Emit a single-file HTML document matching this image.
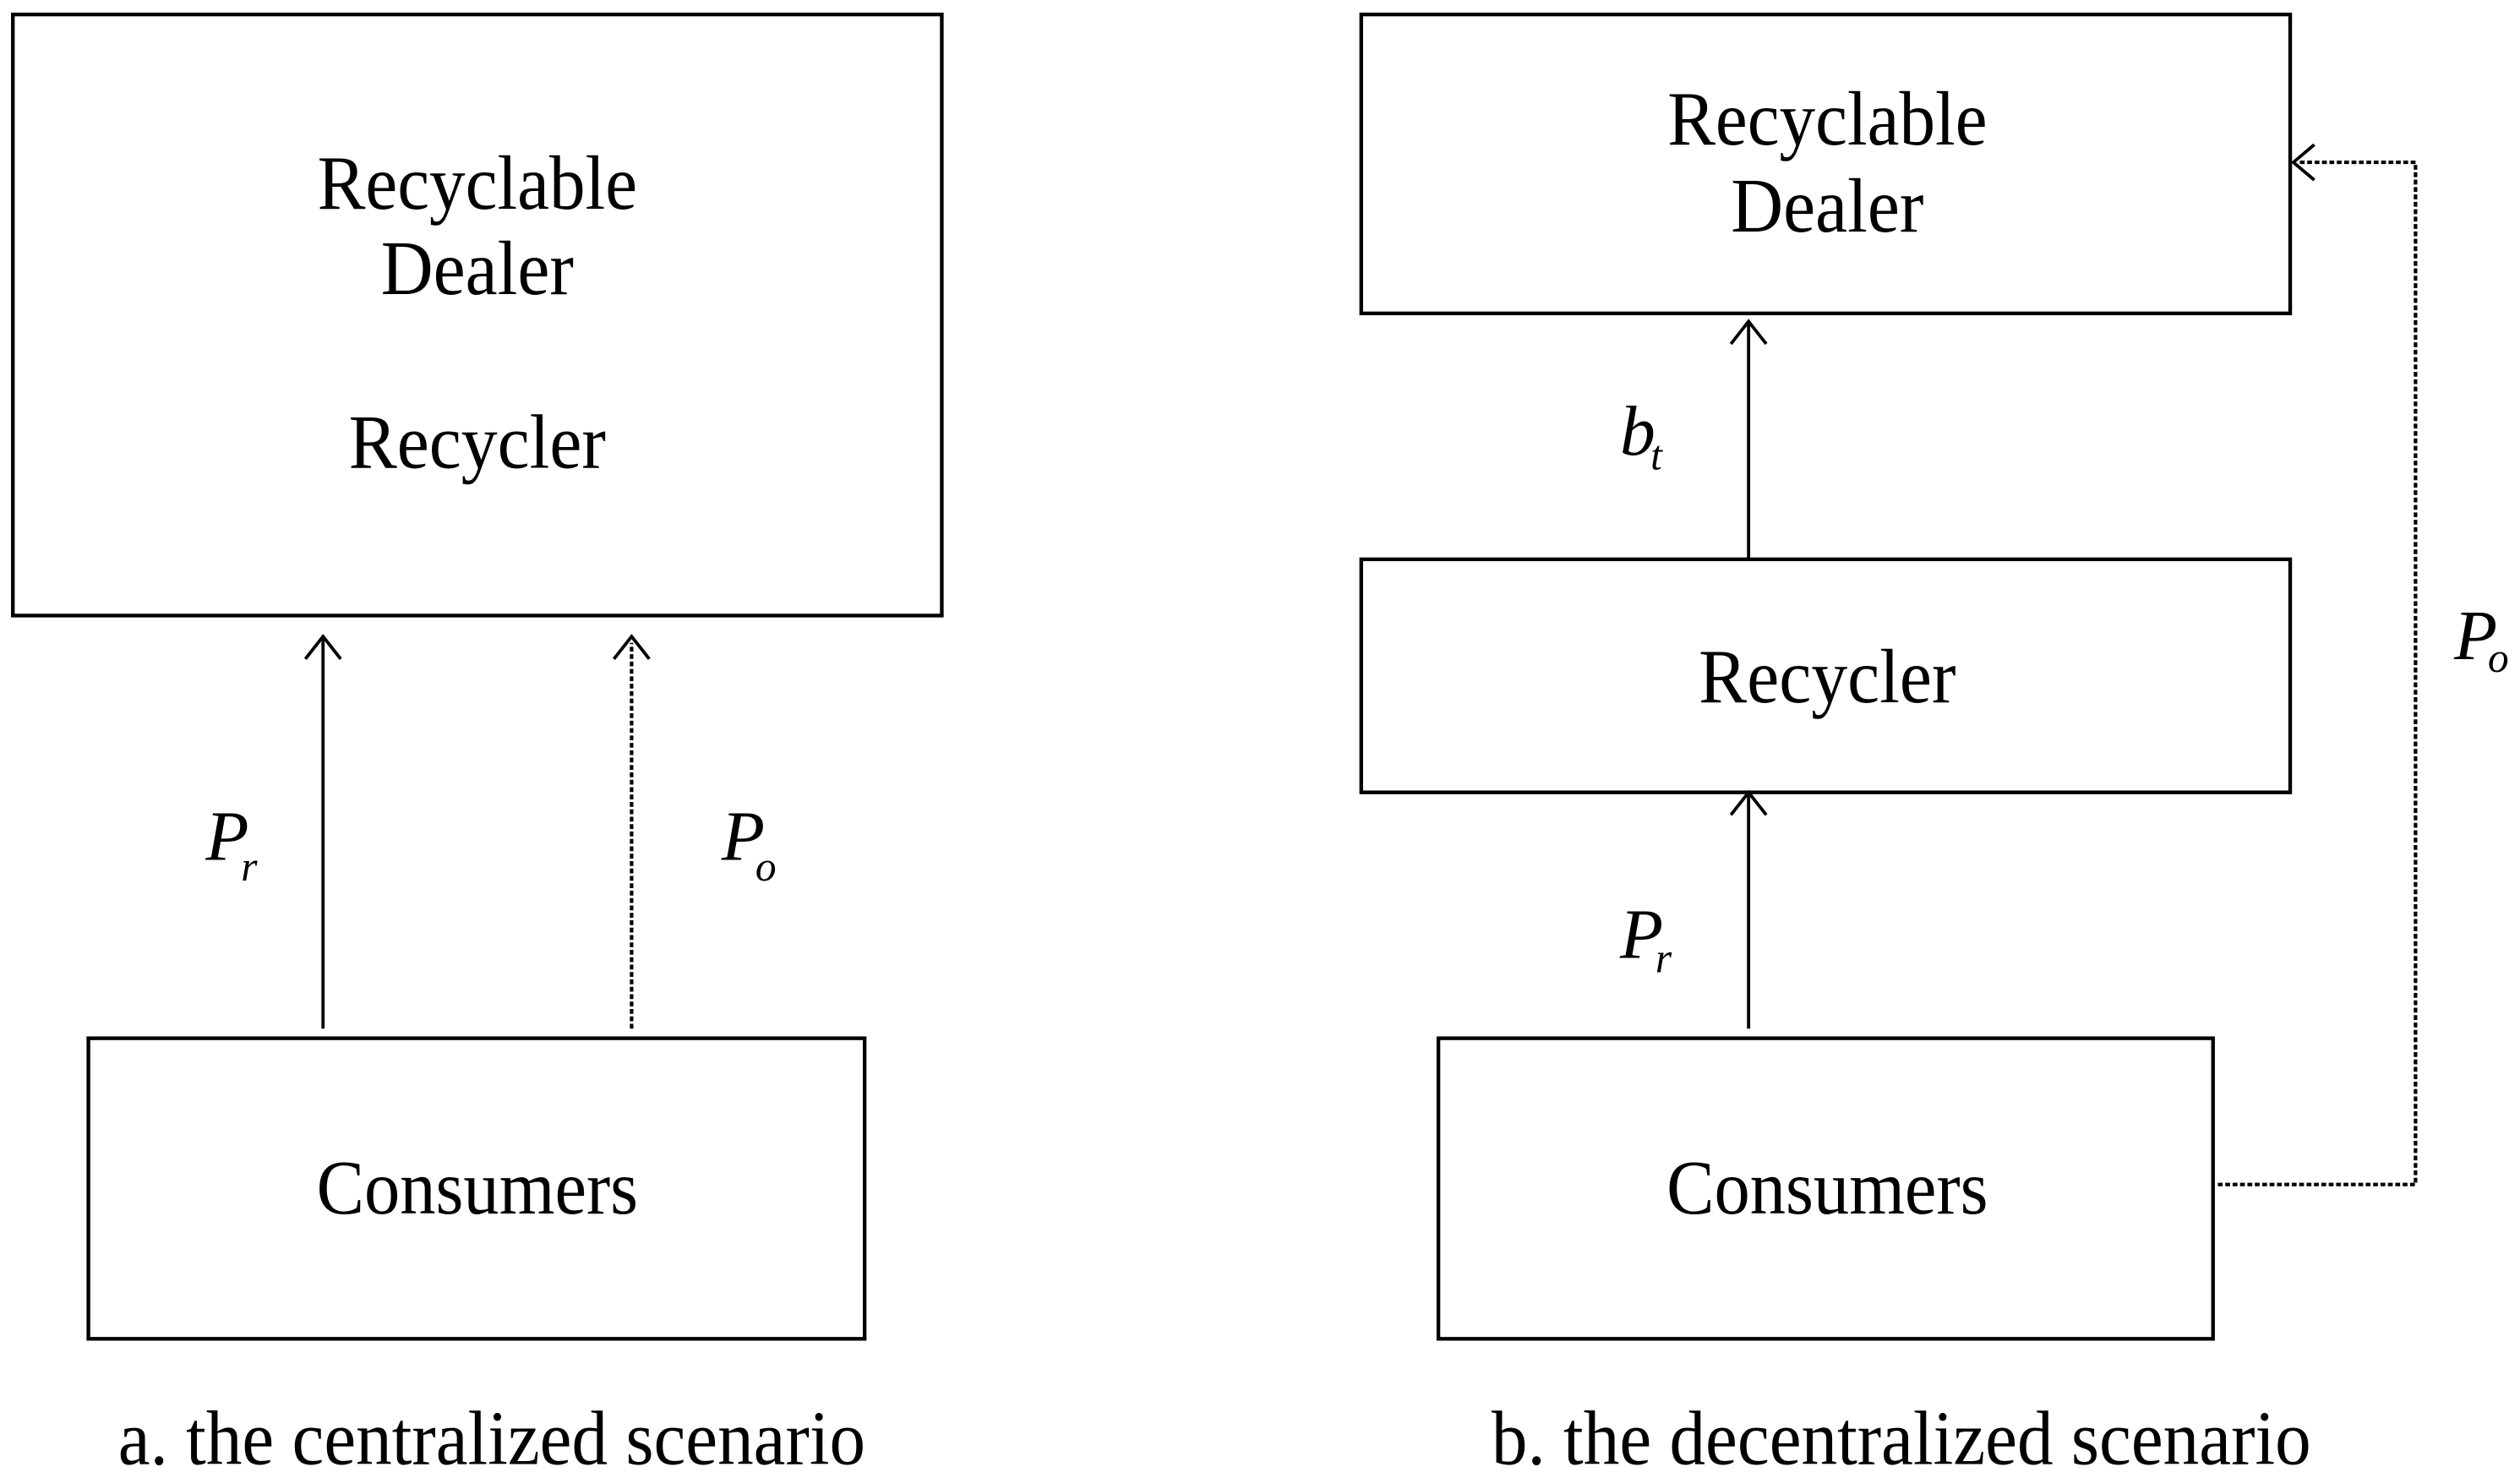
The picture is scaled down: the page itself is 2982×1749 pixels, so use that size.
<!DOCTYPE html>
<html><head><meta charset="utf-8"><style>html,body{margin:0;padding:0;background:#fff}svg{display:block}</style></head>
<body>
<svg width="2982" height="1749" viewBox="0 0 1568 919.6" preserveAspectRatio="none" xmlns="http://www.w3.org/2000/svg" font-family="'Liberation Serif', serif">
<rect x="0" y="0" width="1568" height="919.6" fill="#fff"/>
<g fill="none" stroke="#000" stroke-width="2.3">
<rect x="8" y="9" width="578" height="374"/>
<rect x="55" y="646" width="483" height="187"/>
<rect x="847" y="9" width="578" height="186"/>
<rect x="847" y="348" width="578" height="145"/>
<rect x="895" y="646" width="482" height="187"/>
</g>
<g fill="none" stroke="#000" stroke-width="2">
<line x1="201" y1="640" x2="201" y2="397"/>
<polyline points="190,410 201,396 212,410"/>
<line x1="393" y1="640" x2="393" y2="400" stroke-dasharray="3,1.6" stroke-width="2.2"/>
<polyline points="382,410 393,396 404,410"/>
<line x1="1088" y1="348" x2="1088" y2="201"/>
<polyline points="1077,214 1088,200 1099,214"/>
<line x1="1088" y1="640" x2="1088" y2="494"/>
<polyline points="1077,507 1088,493 1099,507"/>
<polyline points="1380,737 1503,737 1503,101 1430,101" stroke-dasharray="3,1.6" stroke-width="2.2"/>
<polyline points="1440,90 1427,101 1440,112"/>
</g>
<g font-size="48" text-anchor="middle" fill="#000">
<text x="297" y="130" textLength="199" lengthAdjust="spacingAndGlyphs">Recyclable</text>
<text x="297" y="183" textLength="120" lengthAdjust="spacingAndGlyphs">Dealer</text>
<text x="297" y="291" textLength="160" lengthAdjust="spacingAndGlyphs">Recycler</text>
<text x="297" y="755" textLength="200" lengthAdjust="spacingAndGlyphs">Consumers</text>
<text x="1137" y="90" textLength="199" lengthAdjust="spacingAndGlyphs">Recyclable</text>
<text x="1137" y="144" textLength="120" lengthAdjust="spacingAndGlyphs">Dealer</text>
<text x="1137" y="437" textLength="160" lengthAdjust="spacingAndGlyphs">Recycler</text>
<text x="1137" y="755" textLength="200" lengthAdjust="spacingAndGlyphs">Consumers</text>
<text x="306" y="911" textLength="465" lengthAdjust="spacingAndGlyphs">a. the centralized scenario</text>
<text x="1183" y="911" textLength="510" lengthAdjust="spacingAndGlyphs">b. the decentralized scenario</text>
</g>
<g font-style="italic" fill="#000" font-size="44">
<text x="128" y="535">P</text><text x="150" y="548" font-size="26">r</text>
<text x="449" y="535">P</text><text x="470" y="548" font-size="26">o</text>
<text x="1008" y="283">b</text><text x="1027" y="292" font-size="26">t</text>
<text x="1008" y="596">P</text><text x="1030" y="605" font-size="26">r</text>
<text x="1527" y="410">P</text><text x="1548" y="418" font-size="26">o</text>
</g>
</svg>
</body></html>
